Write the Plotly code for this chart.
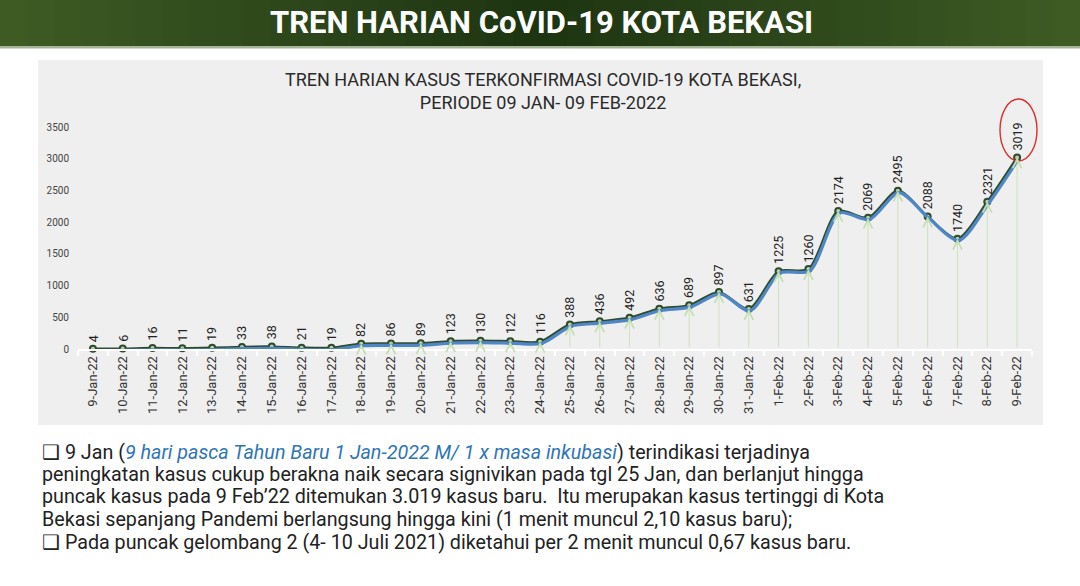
import plotly.graph_objects as go

# ---------------- data ----------------
dates = ["9-Jan-22", "10-Jan-22", "11-Jan-22", "12-Jan-22", "13-Jan-22", "14-Jan-22",
         "15-Jan-22", "16-Jan-22", "17-Jan-22", "18-Jan-22", "19-Jan-22", "20-Jan-22",
         "21-Jan-22", "22-Jan-22", "23-Jan-22", "24-Jan-22", "25-Jan-22", "26-Jan-22",
         "27-Jan-22", "28-Jan-22", "29-Jan-22", "30-Jan-22", "31-Jan-22", "1-Feb-22",
         "2-Feb-22", "3-Feb-22", "4-Feb-22", "5-Feb-22", "6-Feb-22", "7-Feb-22",
         "8-Feb-22", "9-Feb-22"]
cases = [4, 6, 16, 11, 19, 33, 38, 21, 19, 82, 86, 89, 123, 130, 122, 116, 388, 436,
         492, 636, 689, 897, 631, 1225, 1260, 2174, 2069, 2495, 2088, 1740, 2321, 3019]
y_ticks = [0, 500, 1000, 1500, 2000, 2500, 3000, 3500]

banner_title = "TREN HARIAN CoVID-19 KOTA BEKASI"
chart_title = "TREN HARIAN KASUS TERKONFIRMASI COVID-19 KOTA BEKASI,<br>PERIODE 09 JAN- 09 FEB-2022"
notes = [
    "❑ 9 Jan (<i><span style='color:#2e75b6'>9 hari pasca Tahun Baru 1 Jan-2022 M/ 1 x masa inkubasi</span></i>) terindikasi terjadinya",
    "peningkatan kasus cukup berakna naik secara signivikan pada tgl 25 Jan, dan berlanjut hingga",
    "puncak kasus pada 9 Feb’22 ditemukan 3.019 kasus baru.  Itu merupakan kasus tertinggi di Kota",
    "Bekasi sepanjang Pandemi berlangsung hingga kini (1 menit muncul 2,10 kasus baru);",
    "❑ Pada puncak gelombang 2 (4- 10 Juli 2021) diketahui per 2 menit muncul 0,67 kasus baru.",
]

# ---------------- layout geometry (pixels) ----------------
W, H = 1080, 586
L, R, T, B = 78, 1032, 127, 349
PW, PH = R - L, B - T


def px(x):
    return (x - L) / PW


def py(y):
    return (B - y) / PH


n = len(dates)
cat_px = PW / n
unit_px = PH / 3500.0

fig = go.Figure()

# blue shadow line (offset slightly down-right via shifted overlay axes)
fig.add_trace(go.Scatter(
    x=dates, y=cases, mode="lines", xaxis="x2", yaxis="y2",
    line=dict(color="#4f86c6", width=3.2, shape="spline", smoothing=0.8),
    hoverinfo="skip", showlegend=False, cliponaxis=False,
))
# main line
fig.add_trace(go.Scatter(
    x=dates, y=cases, mode="lines+markers",
    line=dict(color="#2f4a2c", width=2.4, shape="spline", smoothing=0.8),
    marker=dict(size=6, color="#b8d3a8", line=dict(color="#2f4a2c", width=2)),
    showlegend=False, cliponaxis=False,
))

annotations = []
# drop lines with chevron heads
for d, v in zip(dates, cases):
    annotations.append(dict(
        x=d, y=v, ax=d, ay=0, xref="x", yref="y", axref="x", ayref="y",
        text="", showarrow=True, arrowhead=5, arrowsize=2.2, arrowwidth=0.8,
        arrowcolor="#c3dfb0", standoff=0,
    ))
# data labels
for d, v in zip(dates, cases):
    annotations.append(dict(
        x=d, y=v, xref="x", yref="y", text=str(v), showarrow=False,
        textangle=-90, xanchor="center", yanchor="bottom", yshift=5,
        font=dict(family="Roboto", size=12.5, color="#222222"),
    ))

# banner title
annotations.append(dict(
    x=px(541), y=py(23), xref="paper", yref="paper", text="<b>" + banner_title + "</b>",
    showarrow=False, xanchor="center", yanchor="middle",
    font=dict(family="Roboto", size=31, color="white"),
))
# chart title
annotations.append(dict(
    x=px(543), y=py(91), xref="paper", yref="paper", text=chart_title,
    showarrow=False, xanchor="center", yanchor="middle", align="center",
    font=dict(family="Roboto", size=18, color="#2a2a2a"),
))
# notes
note_y = [452, 474, 496, 519, 542]
note_x = [40, 40, 40, 40, 40]
for t, yy, xx in zip(notes, note_y, note_x):
    annotations.append(dict(
        x=px(xx), y=py(yy), xref="paper", yref="paper", text=t,
        showarrow=False, xanchor="left", yanchor="middle", align="left",
        font=dict(family="Roboto", size=19.7, color="#222222"),
    ))

shapes = []
# banner gradient strips
strips = 40
c_edge = (63, 92, 37)
c_mid = (30, 52, 18)
for i in range(strips):
    f = abs((i + 0.5) / strips - 0.5) * 2
    c = tuple(int(c_mid[k] + (c_edge[k] - c_mid[k]) * f) for k in range(3))
    shapes.append(dict(
        type="rect", xref="paper", yref="paper", layer="below",
        x0=px(i * W / strips), x1=px((i + 1) * W / strips + 1), y0=py(46), y1=py(0),
        fillcolor="rgb(%d,%d,%d)" % c, line=dict(width=0),
    ))
shapes.append(dict(type="rect", xref="paper", yref="paper", layer="below",
                   x0=px(0), x1=px(W), y0=py(48.5), y1=py(46),
                   fillcolor="#a3b596", line=dict(width=0)))
# grey chart panel
shapes.append(dict(type="rect", xref="paper", yref="paper", layer="below",
                   x0=px(38), x1=px(1043), y0=py(425), y1=py(60),
                   fillcolor="#efefef", line=dict(width=0)))
# red ellipse around the peak label
shapes.append(dict(type="circle", xref="paper", yref="paper", layer="above",
                   x0=px(1000), x1=px(1037), y0=py(161), y1=py(99),
                   line=dict(color="#d8302c", width=1.4)))

dx = 1.2 / cat_px
dy = 1.8 / unit_px

fig.update_layout(
    width=W, height=H,
    margin=dict(l=L, r=W - R, t=T, b=H - B),
    paper_bgcolor="white", plot_bgcolor="rgba(0,0,0,0)",
    showlegend=False,
    xaxis=dict(type="category", categoryarray=dates, range=[-0.5, n - 0.5],
               showgrid=False, zeroline=False, showline=True, linecolor="white", linewidth=2,
               ticks="outside", tickson="boundaries", tickcolor="white", ticklen=5, tickwidth=1.5,
               tickangle=-90, tickfont=dict(family="Roboto", size=13, color="#333333"),
               fixedrange=True),
    yaxis=dict(range=[0, 3500], tickvals=y_ticks, showgrid=False, zeroline=False,
               showline=False, ticks="", ticklabelstandoff=8,
               tickfont=dict(family="Roboto", size=10, color="#444444"), fixedrange=True),
    xaxis2=dict(type="category", categoryarray=dates, overlaying="x",
                range=[-0.5 - dx, n - 0.5 - dx], visible=False),
    yaxis2=dict(overlaying="y", range=[dy, 3500 + dy], visible=False),
    annotations=annotations,
    shapes=shapes,
)

fig.write_html("out.html", config={"displayModeBar": False},
               post_script="document.body.style.margin='0';document.body.style.overflow='hidden';")
